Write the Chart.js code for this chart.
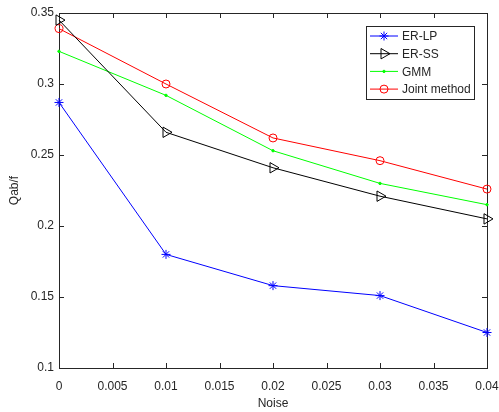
<!DOCTYPE html>
<html>
<head>
<meta charset="utf-8">
<script src="https://cdn.jsdelivr.net/npm/chart.js@4/dist/chart.umd.min.js"></script>
<style>
    html, body { margin: 0; padding: 0; background: #fff; }
</style>
</head>
<body>
<canvas id="chart" width="499" height="412"></canvas>
<script>
// noise levels on the x axis
const noise = [0, 0.01, 0.02, 0.03, 0.04];

// Qab/f values, one list per method
const erLp = [0.287, 0.180, 0.158, 0.151, 0.125];
const erSs = [0.345, 0.266, 0.241, 0.221, 0.205];
const gmm = [0.323, 0.292, 0.253, 0.230, 0.215];
const joint = [0.339, 0.300, 0.262, 0.246, 0.226];

// tick values for both axes
const xTicks = [0, 0.005, 0.01, 0.015, 0.02, 0.025, 0.03, 0.035, 0.04];
const yTicks = [0.1, 0.15, 0.2, 0.25, 0.3, 0.35];

const FONT = 'Liberation Sans, Arial, sans-serif';
const AXIS = '#262626';

const toPoints = (values) => values.map((v, i) => ({ x: noise[i], y: v }));

const datasets = [
    { label: 'ER-LP', data: toPoints(erLp), borderColor: '#0000ff', pointStyle: 'star', pointRadius: 4.5, pointRotation: 0 },
    { label: 'ER-SS', data: toPoints(erSs), borderColor: '#000000', pointStyle: 'triangle', pointRadius: 6, pointRotation: 90 },
    { label: 'GMM', data: toPoints(gmm), borderColor: '#00ff00', pointStyle: 'circle', pointRadius: 1.2, pointBackgroundColor: '#00ff00' },
    { label: 'Joint method', data: toPoints(joint), borderColor: '#ff0000', pointStyle: 'circle', pointRadius: 4 }
].map((ds) => Object.assign({
    borderWidth: 1,
    pointBorderWidth: 1,
    pointBackgroundColor: 'rgba(0,0,0,0)',
    pointBorderColor: ds.borderColor,
    tension: 0,
    clip: false
}, ds));

// axes box with inward ticks on all four sides, like the original figure
const framePlugin = {
    id: 'frame',
    beforeDatasetsDraw(chart) {
        const { ctx, chartArea: a, scales } = chart;
        const len = 5;
        ctx.save();
        ctx.strokeStyle = AXIS;
        ctx.lineWidth = 1;
        ctx.beginPath();
        xTicks.forEach((v) => {
            const x = Math.round(scales.x.getPixelForValue(v)) + 0.5;
            ctx.moveTo(x, a.bottom); ctx.lineTo(x, a.bottom - len);
            ctx.moveTo(x, a.top); ctx.lineTo(x, a.top + len);
        });
        yTicks.forEach((v) => {
            const y = Math.round(scales.y.getPixelForValue(v)) + 0.5;
            ctx.moveTo(a.left, y); ctx.lineTo(a.left + len, y);
            ctx.moveTo(a.right, y); ctx.lineTo(a.right - len, y);
        });
        ctx.stroke();
        ctx.strokeRect(Math.round(a.left) + 0.5, Math.round(a.top) + 0.5,
            Math.round(a.right - a.left), Math.round(a.bottom - a.top));
        ctx.restore();
    }
};

// boxed legend in the upper right corner of the axes
const legendPlugin = {
    id: 'boxLegend',
    afterDraw(chart) {
        const { ctx } = chart;
        const box = { x: 366, y: 26, w: 108, h: 73 };
        ctx.save();
        ctx.fillStyle = '#ffffff';
        ctx.fillRect(box.x, box.y, box.w, box.h);
        ctx.strokeStyle = AXIS;
        ctx.lineWidth = 1;
        ctx.strokeRect(box.x + 0.5, box.y + 0.5, box.w, box.h);
        ctx.font = '12px ' + FONT;
        ctx.textBaseline = 'middle';
        chart.data.datasets.forEach((ds, i) => {
            const y = 36 + i * 17.7;
            ctx.strokeStyle = ds.borderColor;
            ctx.beginPath();
            ctx.moveTo(370, y);
            ctx.lineTo(398, y);
            ctx.stroke();
            ctx.fillStyle = ds.pointBackgroundColor;
            ctx.strokeStyle = ds.borderColor;
            Chart.helpers.drawPoint(ctx, {
                pointStyle: ds.pointStyle,
                radius: ds.pointRadius,
                rotation: ds.pointRotation || 0,
                borderWidth: 1
            }, 384, y);
            ctx.fillStyle = AXIS;
            ctx.fillText(ds.label, 402, y + 1);
        });
        ctx.restore();
    }
};

new Chart(document.getElementById('chart'), {
    type: 'line',
    data: { datasets },
    plugins: [framePlugin, legendPlugin],
    options: {
        responsive: false,
        animation: false,
        layout: { padding: { top: 13, right: 12, left: 0, bottom: 0 } },
        plugins: { legend: { display: false }, tooltip: { enabled: false } },
        scales: {
            x: {
                type: 'linear',
                min: 0,
                max: 0.04,
                afterFit: (scale) => {
                    scale.height = 44;
                    scale.paddingLeft = 0;
                    scale.paddingRight = 0;
                },
                afterBuildTicks: (scale) => { scale.ticks = xTicks.map((v) => ({ value: v })); },
                grid: { display: false, drawTicks: false },
                border: { display: false },
                ticks: {
                    padding: 11,
                    maxRotation: 0,
                    autoSkip: false,
                    color: AXIS,
                    font: { family: FONT, size: 12 },
                    callback: (v) => String(v)
                },
                title: {
                    display: true,
                    text: 'Noise',
                    color: AXIS,
                    font: { family: FONT, size: 12 },
                    padding: { top: 0, bottom: 1 }
                }
            },
            y: {
                min: 0.1,
                max: 0.35,
                afterFit: (scale) => {
                    scale.width = 59;
                    scale.paddingTop = 0;
                    scale.paddingBottom = 0;
                },
                afterBuildTicks: (scale) => { scale.ticks = yTicks.map((v) => ({ value: v })); },
                grid: { display: false, drawTicks: false },
                border: { display: false },
                ticks: {
                    padding: 5,
                    autoSkip: false,
                    color: AXIS,
                    font: { family: FONT, size: 12 },
                    callback: (v) => String(v)
                },
                title: {
                    display: true,
                    text: 'Qab/f',
                    color: AXIS,
                    font: { family: FONT, size: 12 },
                    padding: { top: 7, bottom: 0 }
                }
            }
        }
    }
});
</script>
</body>
</html>
